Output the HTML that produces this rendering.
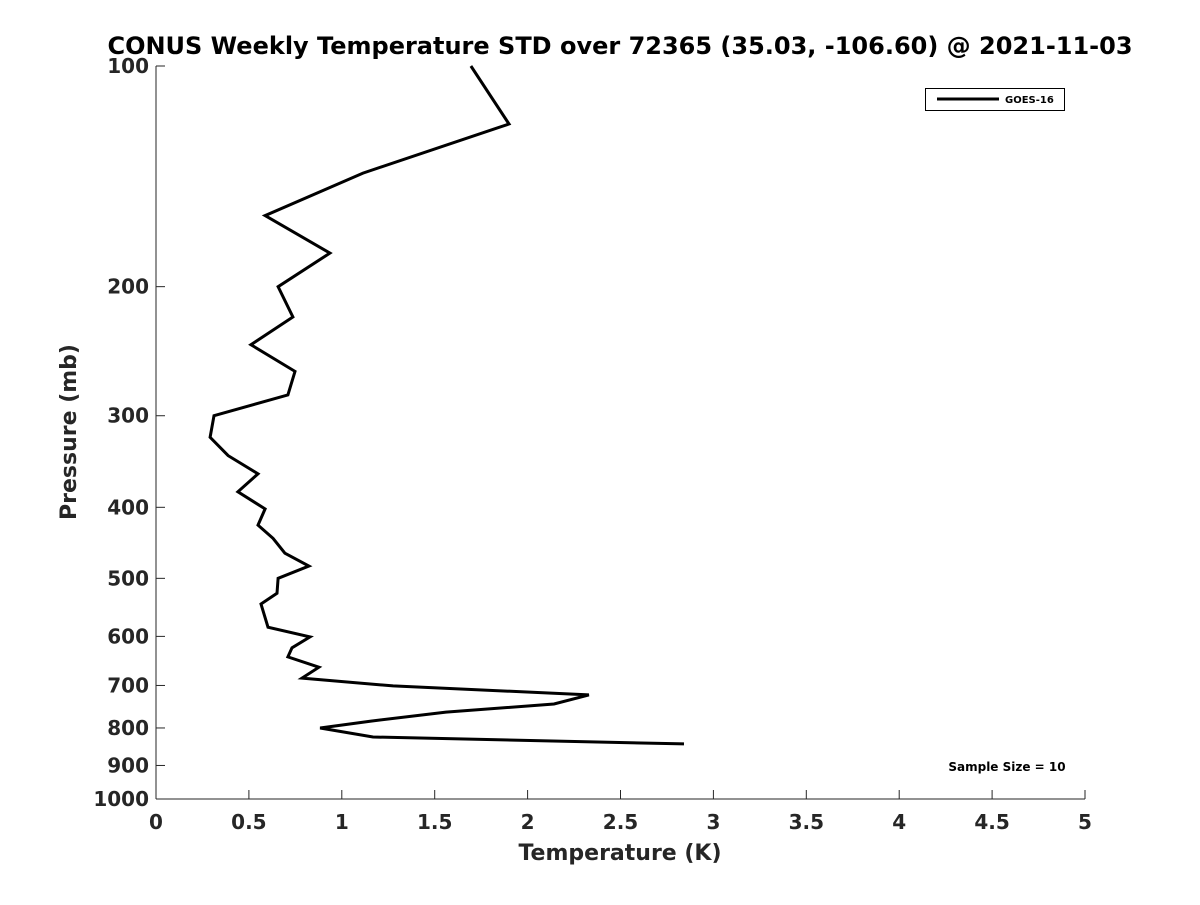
<!DOCTYPE html>
<html><head><meta charset="utf-8"><style>
body{margin:0;background:#fff;}
svg text{font-family:"DejaVu Sans","Liberation Sans",sans-serif;font-weight:bold;fill:#262626;}
</style></head><body>
<svg id="chart" width="1200" height="900" viewBox="0 0 1200 900" xmlns="http://www.w3.org/2000/svg">
<rect width="1200" height="900" fill="#fff"/>
<text x="620" y="54" text-anchor="middle" font-size="24" style="fill:#000">CONUS Weekly Temperature STD over 72365 (35.03, -106.60) @ 2021-11-03</text>
<g id="axes"></g>
<path id="series" fill="none" stroke="#000" stroke-width="3" stroke-linejoin="miter"/>
<g>
<rect x="925.5" y="88.5" width="139" height="22" fill="#fff" stroke="#000" stroke-width="1"/>
<line x1="937" y1="99" x2="999" y2="99" stroke="#000" stroke-width="3"/>
<text x="1005" y="103" font-size="10" style="fill:#000">GOES-16</text>
</g>
<text x="1007" y="771" text-anchor="middle" font-size="12" style="fill:#000">Sample Size = 10</text>
<text x="620" y="860" text-anchor="middle" font-size="22">Temperature (K)</text>
<text transform="translate(76,432) rotate(-90)" text-anchor="middle" font-size="22">Pressure (mb)</text>
</svg>
<script>
const temps=[1.695,1.90,1.114,0.587,0.936,0.657,0.737,0.511,0.748,0.710,0.312,0.291,0.388,0.549,0.441,0.587,0.549,0.630,0.694,0.823,0.657,0.651,0.565,0.603,0.829,0.732,0.710,0.877,0.786,1.276,2.33,2.142,1.561,1.157,0.883,1.168,2.842];
const pressures=[100,120,140,160,180,200,220,240,261,281,300,321,340,360,381,402,423,441,462,481,500,524,542,583,601,622,640,661,684,701,721,742,761,783,800,823,841];
const xTicks=[0,0.5,1,1.5,2,2.5,3,3.5,4,4.5,5];
const yTicks=[100,200,300,400,500,600,700,800,900,1000];
const X0=156,X1=1085,Y0=66,Y1=799;
const xs=v=>X0+(v-0)/(5-0)*(X1-X0);
const ys=p=>Y0+(Math.log10(p)-2)*(Y1-Y0);
const NS="http://www.w3.org/2000/svg";
const ax=document.getElementById('axes');
function mk(t,a){const e=document.createElementNS(NS,t);for(const k in a)e.setAttribute(k,a[k]);return e;}
let l=mk('line',{x1:X0,y1:Y1,x2:X1,y2:Y1,stroke:'#262626','stroke-width':1});


ax.appendChild(l);
l=mk('line',{x1:X0,y1:Y0,x2:X0,y2:Y1,stroke:'#262626','stroke-width':1});


ax.appendChild(l);
xTicks.forEach(v=>{const x=xs(v);
ax.appendChild(mk('line',{x1:x,y1:Y1,x2:x,y2:Y1-9,stroke:'#262626'}));
const t=mk('text',{x:x,y:Y1+30,'text-anchor':'middle','font-size':20});t.textContent=String(v);


ax.appendChild(t);});
yTicks.forEach(v=>{const y=ys(v);
ax.appendChild(mk('line',{x1:X0,y1:y,x2:X0+9,y2:y,stroke:'#262626'}));
const t=mk('text',{x:X0-7,y:y+7,'text-anchor':'end','font-size':20});t.textContent=String(v);


ax.appendChild(t);});
document.getElementById('series').setAttribute('d',temps.map((v,i)=>(i?'L':'M')+xs(v).toFixed(1)+','+ys(pressures[i]).toFixed(1)).join(' '));
</script>
</body></html>
